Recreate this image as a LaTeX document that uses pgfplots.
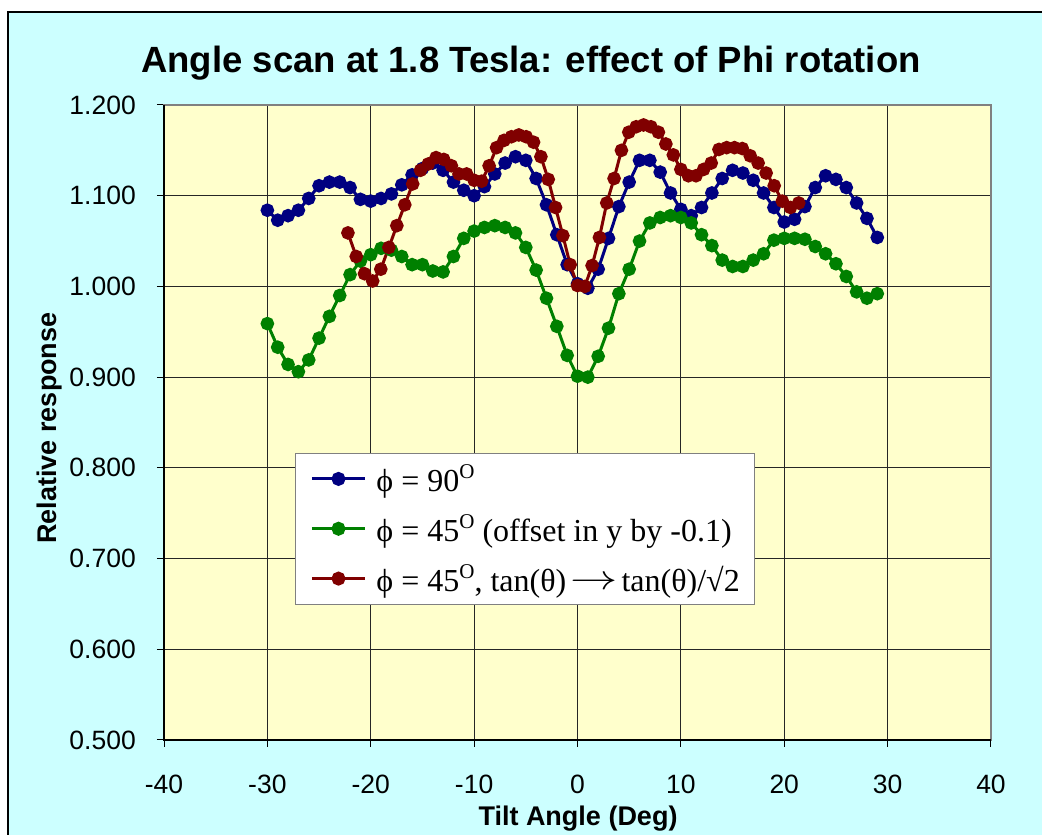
\documentclass[border=0pt]{standalone}
\usepackage{graphicx}
\usepackage{fontspec}
\setmainfont{Liberation Sans}
\newfontfamily\legendfont{Liberation Serif}
\usepackage{pgfplots}
\pgfplotsset{compat=1.18}
\definecolor{bgcyan}{HTML}{CCFFFF}
\definecolor{plotyellow}{HTML}{FFFFCC}
\definecolor{serblue}{HTML}{000080}
\definecolor{sergreen}{HTML}{008000}
\definecolor{serred}{HTML}{800000}
\newcommand{\degO}{\raisebox{0.42em}{\fontsize{21}{21}\selectfont O}}
\newcommand{\lstrut}{\rule[-6pt]{0pt}{31pt}}
\newcommand{\longarrow}{\hspace{4pt}\raisebox{0.06em}{\scalebox{1.9}[1.4]{$\rightarrow$}}\hspace{4pt}}

\begin{document}
\begin{tikzpicture}[x=1pt,y=1pt]
\useasboundingbox (0,0) rectangle (1042,835);
\fill[white] (0,0) rectangle (1042,835);
\filldraw[fill=bgcyan, draw=black, line width=1.5pt] (8,-20) rectangle (1060,823);
\node[anchor=base, font=\bfseries\fontsize{36.5}{40}\selectfont] at (531,762)
  {Angle scan at 1.8 Tesla: effect of Phi rotation};
\node[anchor=base, rotate=90, font=\bfseries\fontsize{27}{30}\selectfont] at (57,407)
  {Relative response};
\node[anchor=base, font=\bfseries\fontsize{27}{30}\selectfont] at (578,9)
  {Tilt Angle (Deg)};
\begin{axis}[
  at={(164pt,95pt)}, anchor=south west,
  scale only axis, width=827pt, height=635pt,
  xmin=-40, xmax=40, ymin=0.5, ymax=1.2,
  xtick={-40,-30,-20,-10,0,10,20,30,40},
  ytick={0.5,0.6,0.7,0.8,0.9,1.0,1.1,1.2},
  /pgf/number format/assume math mode=true,
  yticklabel={\pgfmathprintnumber[fixed,fixed zerofill,precision=3]{\tick}},
  tick label style={font=\fontsize{26.5}{30}\selectfont},
  xticklabel style={inner sep=0pt, anchor=north, yshift=-28pt},
  yticklabel style={inner sep=0pt, anchor=east, xshift=-21pt},
  tick align=outside, tick pos=left, major tick length=7pt,
  tick style={black, line width=1pt},
  grid=major, major grid style={draw=black!85, line width=0.8pt},
  axis background/.style={fill=plotyellow},
  axis line style={draw=gray, line width=1.5pt},
  every axis plot/.append style={line width=3pt, mark=*, mark size=5.3pt},
  legend style={at={(0.1584,0.452)}, anchor=north west, draw=gray, line width=1pt,
    fill=white, font=\legendfont\fontsize{32}{36}\selectfont,
    inner xsep=15pt, inner ysep=11pt, row sep=21pt, column sep=10pt,
    nodes={inner sep=0pt}},
  legend cell align=left,
  legend image code/.code={
    \draw[#1, mark=none] (10pt,0pt) -- (63pt,0pt);
    \draw[#1, mark repeat=2, mark phase=2, mark size=5.5pt, draw=none] plot coordinates {(10pt,0pt) (36.5pt,0pt) (63pt,0pt)};
  },
  after end axis/.code={
    \draw[black, line width=1.5pt] (rel axis cs:0,1) -- (rel axis cs:0,0) -- (rel axis cs:1,0);
  },
]
\addplot[color=serblue] coordinates {
(-30,1.084) (-29,1.073) (-28,1.078) (-27,1.084) (-26,1.097) (-25,1.111)
(-24,1.115) (-23,1.115) (-22,1.109) (-21,1.096) (-20,1.094) (-19,1.097)
(-18,1.102) (-17,1.112) (-16,1.123) (-15,1.130) (-14,1.136) (-13,1.128)
(-12,1.115) (-11,1.106) (-10,1.100) (-9,1.110) (-8,1.124) (-7,1.136)
(-6,1.143) (-5,1.139) (-4,1.119) (-3,1.090) (-2,1.057) (-1,1.024)
(0,1.003) (1,0.998) (2,1.019) (3,1.053) (4,1.088) (5,1.115)
(6,1.139) (7,1.139) (8,1.126) (9,1.103) (10,1.085) (11,1.078)
(12,1.087) (13,1.103) (14,1.119) (15,1.128) (16,1.125) (17,1.117)
(18,1.103) (19,1.087) (20,1.071) (21,1.074) (22,1.088) (23,1.109)
(24,1.122) (25,1.118) (26,1.109) (27,1.092) (28,1.075) (29,1.054)
};
\addlegendentry{\lstrut ϕ = 90\degO}
\addplot[color=sergreen] coordinates {
(-30,0.959) (-29,0.933) (-28,0.914) (-27,0.906) (-26,0.919) (-25,0.943)
(-24,0.967) (-23,0.990) (-22,1.013) (-21,1.028) (-20,1.035) (-19,1.042)
(-18,1.040) (-17,1.033) (-16,1.024) (-15,1.024) (-14,1.017) (-13,1.016)
(-12,1.033) (-11,1.053) (-10,1.061) (-9,1.065) (-8,1.067) (-7,1.065)
(-6,1.059) (-5,1.043) (-4,1.018) (-3,0.987) (-2,0.956) (-1,0.924)
(0,0.901) (1,0.900) (2,0.923) (3,0.954) (4,0.992) (5,1.019)
(6,1.050) (7,1.070) (8,1.076) (9,1.078) (10,1.076) (11,1.070)
(12,1.057) (13,1.045) (14,1.029) (15,1.022) (16,1.022) (17,1.029)
(18,1.036) (19,1.051) (20,1.053) (21,1.053) (22,1.052) (23,1.044)
(24,1.036) (25,1.025) (26,1.011) (27,0.994) (28,0.987) (29,0.992)
};
\addlegendentry{\lstrut ϕ = 45\degO{} (offset in y by -0.1)}
\addplot[color=serred] coordinates {
(-22.208,1.059) (-21.403,1.033) (-20.605,1.014) (-19.813,1.006) (-19.028,1.019)
(-18.249,1.043) (-17.475,1.067) (-16.707,1.090) (-15.944,1.113) (-15.186,1.128)
(-14.433,1.135) (-13.684,1.142) (-12.939,1.140) (-12.199,1.133) (-11.462,1.124)
(-10.729,1.124) (-9.999,1.117) (-9.272,1.116) (-8.548,1.133) (-7.826,1.153)
(-7.107,1.161) (-6.390,1.165) (-5.675,1.167) (-4.962,1.165) (-4.250,1.159)
(-3.540,1.143) (-2.831,1.118) (-2.122,1.087) (-1.414,1.056) (-0.707,1.024)
(0,1.001) (0.707,1.000) (1.414,1.023) (2.122,1.054) (2.831,1.092)
(3.540,1.119) (4.250,1.150) (4.962,1.170) (5.675,1.176) (6.390,1.178)
(7.107,1.176) (7.826,1.170) (8.548,1.157) (9.272,1.145) (9.999,1.129)
(10.729,1.122) (11.462,1.122) (12.199,1.129) (12.939,1.136) (13.684,1.151)
(14.433,1.153) (15.186,1.153) (15.944,1.152) (16.707,1.144) (17.475,1.136)
(18.249,1.125) (19.028,1.111) (19.813,1.094) (20.605,1.087) (21.403,1.092)
};
\addlegendentry{\lstrut ϕ = 45\degO, tan(θ)\longarrow tan(θ)/√2}
\end{axis}
\end{tikzpicture}
\end{document}
